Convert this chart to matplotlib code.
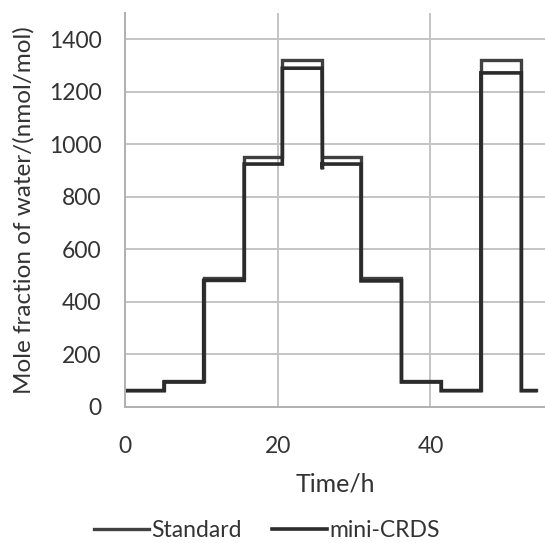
import matplotlib.pyplot as plt

plt.rcParams['font.family'] = ['Lato', 'DejaVu Sans']

# step change times (h) and the level held from each time onward
step_times = [0, 5.1, 10.3, 15.6, 20.6, 25.8, 30.9, 36.2, 41.4, 46.6, 51.9, 53.8]
standard = [65, 98, 490, 950, 1320, 950, 490, 98, 65, 1320, 65, 65]
mini_crds = [62, 95, 482, 925, 1290, 925, 480, 95, 62, 1272, 62, 62]

# short dip right after the 1300 -> 950 switch
dip_time = 25.85
dip_value = 905


def step_xy(times, levels):
    xs, ys = [], []
    for i, (t, v) in enumerate(zip(times, levels)):
        if i > 0:
            xs.append(t)
            ys.append(levels[i - 1])
        xs.append(t)
        ys.append(v)
    return xs, ys


fig = plt.figure(figsize=(5.45, 5.43), dpi=100)
ax = fig.add_axes([0.2294, 0.2505, 0.7706, 0.7255])

sx, sy = step_xy(step_times, standard)
mx, my = step_xy(step_times, mini_crds)
# put the dip into the mini-CRDS trace
k = mx.index(25.8) + 1
mx.insert(k, dip_time)
my.insert(k, dip_value)

ax.plot(sx, sy, color='#404040', lw=2.4, label='Standard', solid_joinstyle='miter')
ax.plot(mx, my, color='#2b2b2b', lw=2.6, label='mini-CRDS', solid_joinstyle='miter')

ax.set_xlim(0, 55)
ax.set_ylim(0, 1500)
ax.set_xticks([0, 20, 40])
ax.set_yticks(range(0, 1401, 200))
ax.grid(True, color='#c4c4c4', lw=1.4)
ax.set_axisbelow(True)
ax.tick_params(length=0, labelsize=16.5, colors='#333333')
ax.tick_params(axis='y', pad=17)
ax.tick_params(axis='x', pad=21)
for s in ['top', 'right']:
    ax.spines[s].set_visible(False)
for s in ['left', 'bottom']:
    ax.spines[s].set_color('#b0b0b0')
    ax.spines[s].set_linewidth(1.4)

ax.set_xlabel('Time/h', fontsize=18, color='#333333', labelpad=11)
ax.set_ylabel('Mole fraction of water/(nmol/mol)', fontsize=17.5, color='#333333', labelpad=10)

fig.legend(*ax.get_legend_handles_labels(), loc='lower center',
           bbox_to_anchor=(0.49, -0.035), ncol=2, frameon=False,
           fontsize=16.5, handlelength=2.4, handletextpad=0.1, columnspacing=1.3,
           labelcolor='#333333')

fig.savefig('out.png', dpi=100)
